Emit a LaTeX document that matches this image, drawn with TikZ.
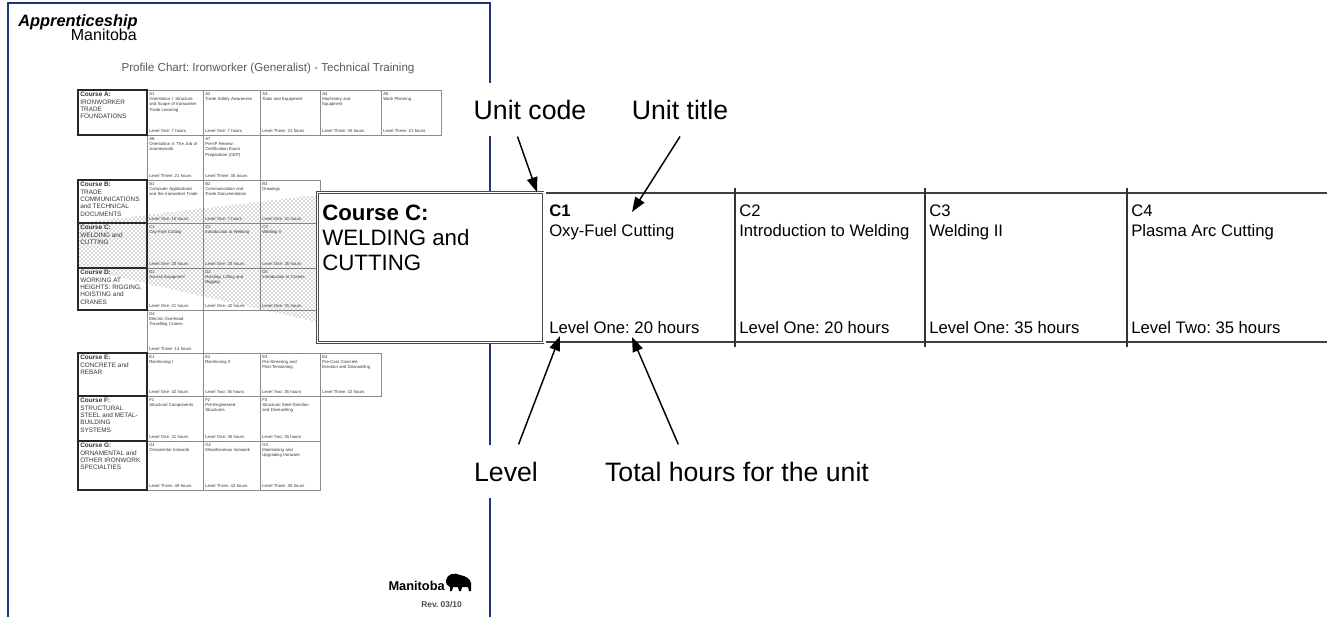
\documentclass[tikz,border=0pt]{standalone}
\usepackage{fontspec}
\setmainfont{Liberation Sans}
\usetikzlibrary{arrows.meta,patterns}
\definecolor{pageblue}{RGB}{28,54,128}
\frenchspacing
\hyphenpenalty=10000
\exhyphenpenalty=10000

\begin{document}
\begin{tikzpicture}[x=0.75pt,y=-0.75pt,
  cell/.style={draw=black!45,line width=0.45pt},
  coursebox/.style={draw=black!85,line width=1pt},
  coursetxt/.style={font=\fontsize{4.8}{5.5}\selectfont,anchor=north west,align=left,inner sep=0pt,text=black!80},
  celltxt/.style={font=\fontsize{3.2}{4}\selectfont,align=left,inner sep=0pt,text=black!80,text width=37pt},
  rule/.style={draw=black!75,line width=1.1pt},
  unittxt/.style={font=\fontsize{12.5}{14.6}\selectfont,align=left,inner sep=0pt},
  callout/.style={font=\fontsize{20}{24}\selectfont,fill=white,inner xsep=2pt,inner ysep=12.75pt,anchor=base},
  pointer/.style={-{Triangle[length=11pt,width=8pt]},line width=1.1pt}]
\useasboundingbox (0,0) rectangle (1327,617);

% the page
\draw[pageblue,line width=1.5pt] (8,617) -- (8,3) -- (490,3) -- (490,617);
\node[font=\bfseries\itshape\fontsize{12.3}{14}\selectfont,anchor=base west,inner sep=0pt] (brand) at (18,27) {Apprenticeship};
\node[font=\fontsize{12}{14}\selectfont,anchor=base east,inner sep=0pt] (brandsub) at (137,41) {Manitoba};
\node[font=\fontsize{8.7}{10}\selectfont,text=black!65,anchor=base,inner sep=0pt] (chart) at (268,71) {Profile Chart: Ironworker (Generalist) - Technical Training};

% units of the chart
\foreach \code/\xl/\xr/\yt/\yb/\utitle/\ulvl in {
  A1/147/203/90/135/{Orientation I: Structure and Scope of Ironworker Trade Learning}/{Level One: 7 hours},
  A2/203/260/90/135/{Trade Safety Awareness}/{Level One: 7 hours},
  A3/260/320/90/135/{Tools and Equipment}/{Level Three: 21 hours},
  A4/320/381/90/135/{Machinery and Equipment}/{Level Three: 35 hours},
  A5/381/441/90/135/{Work Planning}/{Level Three: 21 hours},
  A6/147/203/135/180/{Orientation II: The Job of Journeywork}/{Level Three: 21 hours},
  A7/203/260/135/180/{Pre-IP Review: Certification Exam Preparation (CEP)}/{Level Three: 35 hours},
  B1/147/203/180/223/{Computer Applications and the Ironworker Trade}/{Level One: 15 hours},
  B2/203/260/180/223/{Communication and Trade Documentation}/{Level One: 7 hours},
  B3/260/320/180/223/{Drawings}/{Level One: 21 hours},
  C1/147/203/223/268/{Oxy-Fuel Cutting}/{Level One: 20 hours},
  C2/203/260/223/268/{Introduction to Welding}/{Level One: 20 hours},
  C3/260/320/223/268/{Welding II}/{Level One: 35 hours},
  D1/147/203/268/310/{Access Equipment}/{Level One: 21 hours},
  D2/203/260/268/310/{Hoisting, Lifting and Rigging}/{Level One: 42 hours},
  D3/260/320/268/310/{Introduction to Cranes}/{Level One: 21 hours},
  D4/147/203/310/353/{Electric Overhead Travelling Cranes}/{Level Three: 14 hours},
  E1/147/203/353/396/{Reinforcing I}/{Level One: 42 hours},
  E2/203/260/353/396/{Reinforcing II}/{Level Two: 35 hours},
  E3/260/320/353/396/{Pre-Stressing and Post-Tensioning}/{Level Two: 35 hours},
  E4/320/381/353/396/{Pre-Cast Concrete Erection and Dismantling}/{Level Three: 42 hours},
  F1/147/203/396/441/{Structural Components}/{Level One: 21 hours},
  F2/203/260/396/441/{Pre-Engineered Structures}/{Level One: 35 hours},
  F3/260/320/396/441/{Structural Steel Erection and Dismantling}/{Level Two: 35 hours},
  G1/147/203/441/490/{Ornamental Ironwork}/{Level Three: 49 hours},
  G2/203/260/441/490/{Miscellaneous Ironwork}/{Level Three: 42 hours},
  G3/260/320/441/490/{Maintaining and Upgrading Ironwork}/{Level Three: 35 hours}}
{
  \draw[cell] (\xl,\yt) rectangle (\xr,\yb);
  \node[celltxt,anchor=north west] (cell\code) at (\xl+2,\yt+2) {\code\\\utitle};
  \node[celltxt,anchor=south west] (lvl\code) at (\xl+2,\yb-2) {\ulvl};
}

% courses
\foreach \cname/\yt/\yb/\txt in {
  A/90/135/{IRONWORKER\\TRADE\\FOUNDATIONS},
  B/180/223/{TRADE\\COMMUNICATIONS\\and TECHNICAL\\DOCUMENTS},
  C/223/268/{WELDING and\\CUTTING},
  D/268/310/{WORKING AT\\HEIGHTS: RIGGING,\\HOISTING and\\CRANES},
  E/353/396/{CONCRETE and\\REBAR},
  F/396/441/{STRUCTURAL\\STEEL and METAL-\\BUILDING\\SYSTEMS},
  G/441/490/{ORNAMENTAL and\\OTHER IRONWORK\\SPECIALTIES}}
{
  \draw[coursebox] (78,\yt) rectangle (147,\yb);
  \node[coursetxt] (course\cname) at (80,\yt+2) {\textbf{Course \cname:}\\\txt};
}

% zoom wedge
\fill[pattern=crosshatch dots,pattern color=black!65] (78,223) -- (317,195) -- (317,322) -- (78,268) -- cycle;

% footer
\node[font=\bfseries\fontsize{9.6}{11}\selectfont,anchor=base east,inner sep=0pt] (govt) at (445,590) {Manitoba};
\fill (446,580) .. controls (447,574) and (455,572) .. (460,575) .. controls (465,576) and (470,578) .. (471,583) -- (471,591) -- (469,591) -- (468,587) -- (462,587) -- (461,591) -- (459,591) -- (458,587) -- (453,587) -- (452,591) -- (450,591) -- (450,587) .. controls (447,586) and (446,584) .. cycle;
\node[font=\bfseries\fontsize{6.3}{7}\selectfont,text=black!70,anchor=base east,inner sep=0pt] (rev) at (462,607) {Rev. 03/10};

% enlarged course row
\node[draw=black!70,double=white,double distance=1.2pt,line width=0.7pt,fill=white,minimum width=169.5pt,minimum height=112.5pt,anchor=north west,inner sep=0pt] (bigbox) at (317,192) {};
\node[font=\fontsize{16.7}{18.75}\selectfont,anchor=north west,align=left,inner sep=0pt] (bigtxt) at (322,205) {\textbf{Course C:}\\WELDING and\\CUTTING};

\draw[rule] (545,193) -- (1327,193);
\draw[rule] (545,342) -- (1327,342);
\draw[draw=black!75,double=white,double distance=1pt,line width=0.6pt] (545,191) -- (545,344);
\foreach \x in {735,925,1127}
{
  \draw[draw=black!80,line width=0.8pt] (\x,188) -- (\x,347);
}
\foreach \i/\x/\code/\utitle/\ulvl in {
  1/549/{\textbf{C1}}/{Oxy-Fuel Cutting}/{Level One: 20 hours},
  2/739/C2/{Introduction to Welding}/{Level One: 20 hours},
  3/929/C3/{Welding II}/{Level One: 35 hours},
  4/1131/C4/{Plasma Arc Cutting}/{Level Two: 35 hours}}
{
  \node[unittxt,anchor=north west] (unit\i) at (\x,205) {\code\\\utitle};
  \node[unittxt,anchor=base west] (level\i) at (\x,333) {\ulvl};
}

% callouts
\node[callout] (codenote) at (530,119) {Unit code};
\node[callout] (titlenote) at (680,119) {Unit title};
\node[callout] (levelnote) at (506,481) {Level};
\node[callout] (hoursnote) at (737,481) {Total hours for the unit};
\coordinate (codetip) at (537,192);
\coordinate (titletip) at (632,212);
\coordinate (leveltip) at (560,336);
\coordinate (hourstip) at (632,337);
\draw[pointer] ([xshift=-9.4pt]codenote.south) -- (codetip);
\draw[pointer] (titlenote.south) -- (titletip);
\draw[pointer] ([xshift=9.4pt]levelnote.north) -- (leveltip);
\draw[pointer] ([xshift=-44pt]hoursnote.north) -- (hourstip);
\end{tikzpicture}
\end{document}
